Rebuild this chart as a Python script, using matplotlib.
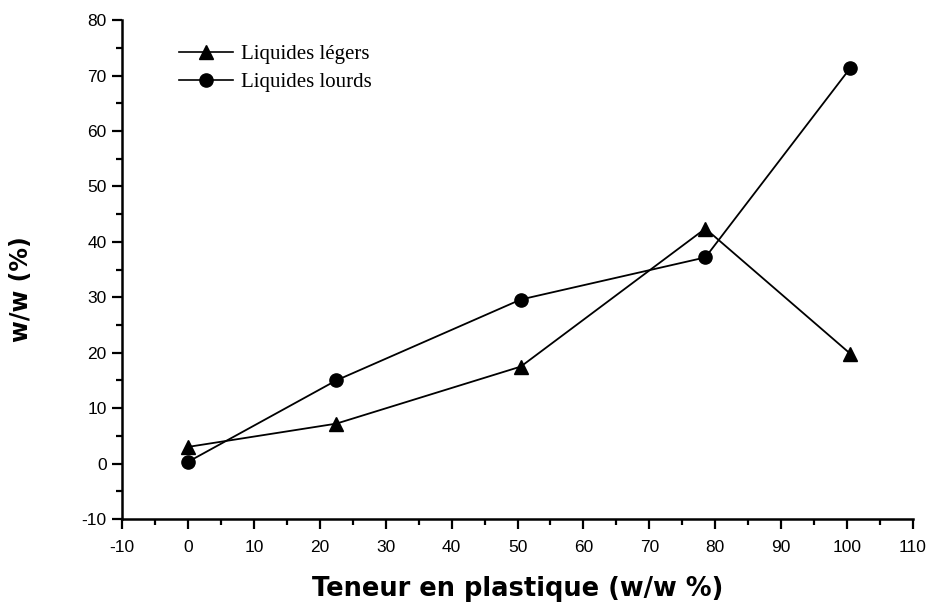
import numpy as np
import matplotlib
matplotlib.use('Agg')
import matplotlib.pyplot as plt
from matplotlib.ticker import MultipleLocator

# plastic content (w/w %) and product yields
plastique = [0, 22.5, 50.5, 78.5, 100.5]
legers = [3.0, 7.2, 17.5, 42.4, 19.8]
lourds = [0.3, 15.0, 29.6, 37.2, 71.4]

xticks = list(range(-10, 111, 10))
yticks = list(range(-10, 81, 10))
xticklabels = [str(v) for v in xticks]   # plain hyphen for negatives
yticklabels = [str(v) for v in yticks]

plt.rcParams['font.family'] = ['Liberation Sans', 'DejaVu Sans']

fig = plt.figure(figsize=(9.35, 6.12), dpi=100)
ax = fig.add_axes([0.1305, 0.152, 0.846, 0.815])

ax.plot(plastique, legers, '-^', color='black', lw=1.3, ms=10, label='Liquides légers')
ax.plot(plastique, lourds, '-o', color='black', lw=1.3, ms=9.5, label='Liquides lourds')

ax.set_xlim(-10, 110)
ax.set_ylim(-10, 80)
ax.set_xticks(xticks)
ax.set_xticklabels(xticklabels)
ax.set_yticks(yticks)
ax.set_yticklabels(yticklabels)
ax.xaxis.set_minor_locator(MultipleLocator(5))
ax.yaxis.set_minor_locator(MultipleLocator(5))
ax.tick_params(which='major', direction='out', length=7, width=1.6, labelsize=12.5)
ax.tick_params(axis='x', which='major', pad=8)
ax.tick_params(axis='y', which='major', pad=4)
ax.tick_params(which='minor', direction='out', length=4, width=1.6)

for s in ('top', 'right'):
    ax.spines[s].set_visible(False)
for s in ('left', 'bottom'):
    ax.spines[s].set_linewidth(1.8)

ax.set_xlabel('Teneur en plastique (w/w %)', fontsize=18.5, fontweight='bold',
              family='DejaVu Sans', labelpad=15)
ax.set_ylabel('w/w (%)', fontsize=17, fontweight='bold', family='DejaVu Sans')
ax.yaxis.set_label_coords(-0.112, 0.46)

leg = ax.legend(loc='upper left', bbox_to_anchor=(0.072, 0.951), frameon=False,
                borderpad=0, borderaxespad=0,
                numpoints=1, handlelength=2.6, handletextpad=0.4, labelspacing=0.4,
                prop={'family': 'Liberation Serif', 'size': 15})
for h in leg.legend_handles:
    h.set_markersize(9.5)
    h.set_linewidth(1.2)

fig.savefig('out.png', dpi=100)
